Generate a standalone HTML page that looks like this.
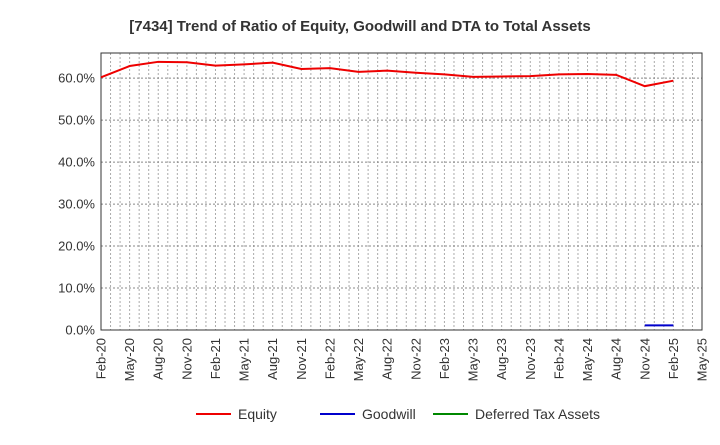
<!DOCTYPE html>
<html><head><meta charset="utf-8"><style>
body{margin:0;background:#fff;font-family:"Liberation Sans",sans-serif}
</style></head><body>
<svg id="c" width="720" height="440" xmlns="http://www.w3.org/2000/svg">
<text x="360" y="31" text-anchor="middle" font-size="15" font-weight="bold" fill="#333">[7434]  Trend of Ratio of Equity, Goodwill and DTA to Total Assets</text>
</svg>
<script>
const categories=["Feb-20","May-20","Aug-20","Nov-20","Feb-21","May-21","Aug-21","Nov-21","Feb-22","May-22","Aug-22","Nov-22","Feb-23","May-23","Aug-23","Nov-23","Feb-24","May-24","Aug-24","Nov-24","Feb-25","May-25"];
const equity=[60.2,62.9,63.9,63.8,63.0,63.3,63.7,62.2,62.4,61.5,61.8,61.3,60.9,60.3,60.4,60.5,60.9,61.0,60.8,58.1,59.4,null];
const goodwill=[null,null,null,null,null,null,null,null,null,null,null,null,null,null,null,null,null,null,null,1.1,1.1,null];
const dta=[];
const yTicks=[0,10,20,30,40,50,60];
const L=101,R=702,T=53,B=330,yMax=66;
const svg=document.getElementById('c');
const NS="http://www.w3.org/2000/svg";
function x(i){return L+(R-L)*i/(categories.length-1);}
function y(v){return B-(B-T)*v/yMax;}
function mk(t,a){const e=document.createElementNS(NS,t);for(const k in a)e.setAttribute(k,a[k]);svg.appendChild(e);return e;}
const months=(categories.length-1)*3;
for(let m=1;m<months;m++){const gx=L+(R-L)*m/months;
const g=mk('line',{x1:gx,x2:gx,y1:T,y2:B,stroke:'#aaa','stroke-dasharray':'2,2','stroke-width':1});

}
yTicks.forEach(v=>{const gy=y(v);
if(v>0){const g=mk('line',{x1:L,x2:R,y1:gy,y2:gy,stroke:'#888','stroke-dasharray':'2,2','stroke-width':1});

}
const t=mk('text',{x:L-6,y:gy+4.5,'text-anchor':'end','font-size':13,fill:'#333'});t.textContent=v.toFixed(1)+'%';

});
const fr=mk('rect',{x:L,y:T,width:R-L,height:B-T,fill:'none',stroke:'#333','stroke-width':1});


categories.forEach((c,i)=>{const t=mk('text',{x:0,y:0,'text-anchor':'end','font-size':13,fill:'#333',transform:`translate(${x(i)+4.5},${B+8}) rotate(-90)`});t.textContent=c;

});
function line(arr,color,name){let d='';arr.forEach((v,i)=>{if(v==null)return;d+=(d?'L':'M')+x(i)+','+y(v);});
if(!d)return;const p=mk('path',{d:d,fill:'none',stroke:color,'stroke-width':2});

}
line(equity,'#e00','equity-line');line(goodwill,'#00c','goodwill-line');line(dta,'#080','dta-line');
const leg=[['Equity','#e00',196],['Goodwill','#00c',320],['Deferred Tax Assets','#080',433]];
leg.forEach(([n,c,lx])=>{const l=mk('line',{x1:lx,x2:lx+35,y1:414,y2:414,stroke:c,'stroke-width':2});


const t=mk('text',{x:lx+42,y:419,'font-size':14,fill:'#333'});t.textContent=n;

});
</script>
</body></html>
